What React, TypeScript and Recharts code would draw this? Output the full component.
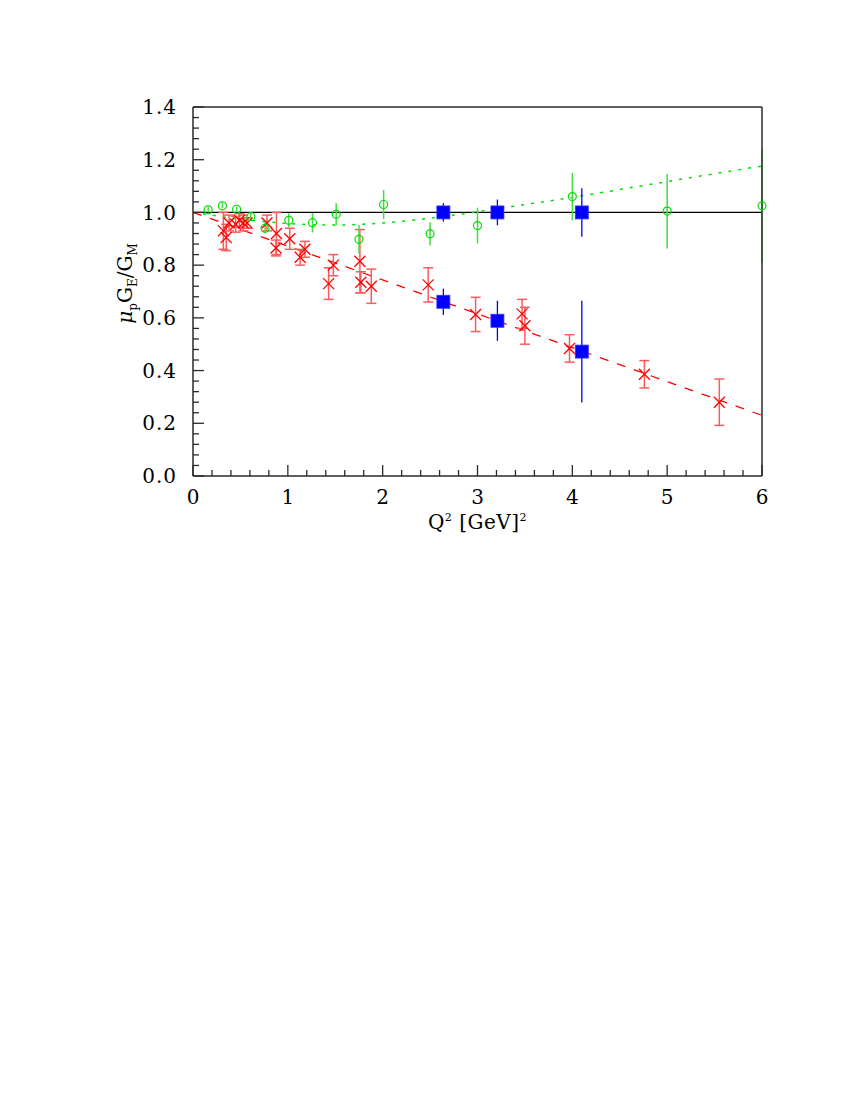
import React from 'react';
import { ComposedChart, XAxis, YAxis, Scatter, Line, ErrorBar, ReferenceLine, Label } from 'recharts';

// Red crosses (recoil polarization data)
const redQ = [0.32, 0.35, 0.38, 0.45, 0.49, 0.53, 0.57, 0.78, 0.88, 0.875, 1.02, 1.13, 1.18, 1.43, 1.48, 1.76, 1.77, 1.88, 2.48, 2.98, 3.47, 3.5, 3.97, 4.76, 5.55];
const redRatio = [0.93, 0.905, 0.96, 0.955, 0.97, 0.96, 0.96, 0.96, 0.92, 0.865, 0.9, 0.83, 0.86, 0.73, 0.8, 0.815, 0.735, 0.72, 0.725, 0.613, 0.615, 0.57, 0.484, 0.386, 0.28];
const redErr = [0.07, 0.05, 0.03, 0.03, 0.025, 0.03, 0.02, 0.03, 0.08, 0.03, 0.04, 0.03, 0.03, 0.06, 0.04, 0.12, 0.04, 0.065, 0.065, 0.065, 0.055, 0.07, 0.052, 0.052, 0.088];

// Green circles (Rosenbluth data)
const greenQ = [0.16, 0.31, 0.46, 0.61, 0.76, 1.01, 1.26, 1.51, 1.75, 2.01, 2.5, 3.0, 4.0, 5.0, 6.0];
const greenRatio = [1.01, 1.025, 1.012, 0.984, 0.94, 0.97, 0.961, 0.993, 0.898, 1.03, 0.919, 0.95, 1.06, 1.005, 1.025];
const greenErr = [0.01, 0.01, 0.01, 0.015, 0.02, 0.027, 0.037, 0.042, 0.054, 0.055, 0.044, 0.068, 0.09, 0.142, 0.216];

// Blue squares (projected)
const blueQ = [2.64, 3.21, 4.1, 2.64, 3.21, 4.1];
const blueRatio = [1.0, 1.0, 1.0, 0.661, 0.589, 0.472];
const blueErr = [0.035, 0.049, 0.092, 0.05, 0.076, 0.193];

// Fit curves
const redFitQ = [0, 1, 2, 3, 4, 5, 6];
const redFitRatio = [1.0, 0.872, 0.744, 0.615, 0.487, 0.358, 0.23];
const greenFitQ = [0, 0.5, 1, 1.5, 2, 2.5, 3, 3.5, 4, 4.5, 5, 5.5, 6];
const greenFitRatio = [1.0, 0.975, 0.958, 0.952, 0.96, 0.978, 1.003, 1.03, 1.057, 1.087, 1.117, 1.147, 1.176];

// Axis ticks
const xMajorLabels = [0, 1, 2, 3, 4, 5, 6];
const yMajorLabels = [0, 0.2, 0.4, 0.6, 0.8, 1.0, 1.2, 1.4];
const xTicks = Array.from({ length: 31 }, (_, i) => +(i * 0.2).toFixed(2));
const yTicks = Array.from({ length: 36 }, (_, i) => +(i * 0.04).toFixed(2));

const zip3 = (a: number[], b: number[], c?: number[]) => a.map((x, i) => ({ x, y: b[i], e: c ? c[i] : 0 }));
const redData = zip3(redQ, redRatio, redErr);
const greenData = zip3(greenQ, greenRatio, greenErr);
const blueData = zip3(blueQ, blueRatio, blueErr);
const redFit = zip3(redFitQ, redFitRatio);
const greenFit = zip3(greenFitQ, greenFitRatio);

const FONT = '"DejaVu Serif", serif';
const AX = '#2a2a2a';

const isXMajor = (v: number) => xMajorLabels.some((m) => Math.abs(m - v) < 1e-6);
const isYMajor = (v: number) => yMajorLabels.some((m) => Math.abs(m - v) < 1e-6);

const BottomTick = (p: any) => {
  const { x, y, payload } = p;
  const major = isXMajor(payload.value);
  return (
    <g>
      <line x1={x} x2={x} y1={y} y2={y - (major ? 11 : 6)} stroke={AX} strokeWidth={1.3} />
      {major && (
        <text x={x} y={y + 21} dy="0.36em" textAnchor="middle" fontFamily={FONT} fontSize={20} fill="#000">
          {Math.round(payload.value)}
        </text>
      )}
    </g>
  );
};
const TopTick = (p: any) => {
  const { x, y, payload } = p;
  const major = isXMajor(payload.value);
  return <line x1={x} x2={x} y1={y} y2={y + (major ? 11 : 6)} stroke={AX} strokeWidth={1.3} />;
};
const LeftTick = (p: any) => {
  const { x, y, payload } = p;
  const major = isYMajor(payload.value);
  return (
    <g>
      <line x1={x} x2={x + (major ? 11 : 6)} y1={y} y2={y} stroke={AX} strokeWidth={1.3} />
      {major && (
        <text x={x - 16} y={y} dy="0.36em" textAnchor="end" fontFamily={FONT} fontSize={20} letterSpacing={1} fill="#000">
          {payload.value.toFixed(1)}
        </text>
      )}
    </g>
  );
};
const RightTick = (p: any) => {
  const { x, y, payload } = p;
  const major = isYMajor(payload.value);
  return <line x1={x} x2={x - (major ? 11 : 6)} y1={y} y2={y} stroke={AX} strokeWidth={1.3} />;
};

const XMark = (p: any) => {
  const { cx, cy } = p;
  const s = 5.5;
  return (
    <g stroke="#ff0000" strokeWidth={1.3}>
      <line x1={cx - s} y1={cy - s} x2={cx + s} y2={cy + s} />
      <line x1={cx - s} y1={cy + s} x2={cx + s} y2={cy - s} />
    </g>
  );
};
const Circle = (p: any) => <circle cx={p.cx} cy={p.cy} r={4} fill="none" stroke="#00dd00" strokeWidth={1.2} />;
const Square = (p: any) => <rect x={p.cx - 6.5} y={p.cy - 6.5} width={13} height={13} fill="#0000ff" stroke="#3333ff" strokeWidth={0.8} />;

const XLabel = (props: any) => {
  const vb = props.viewBox;
  return (
    <text x={vb.x + vb.width / 2} y={vb.y + 53} textAnchor="middle" fontFamily={FONT} fontSize={20} letterSpacing={0.5} fill="#000">
      Q<tspan dy={-8} fontSize={11}>2</tspan>
      <tspan dy={8}> [GeV]</tspan>
      <tspan dy={-8} fontSize={11}>2</tspan>
    </text>
  );
};
const YLabel = (props: any) => {
  const vb = props.viewBox;
  const cx = vb.x - 1;
  const cy = vb.y + vb.height / 2 - 8;
  return (
    <text x={cx} y={cy} transform={`rotate(-90, ${cx}, ${cy})`} textAnchor="middle" fontFamily={FONT} fontSize={20} fill="#000">
      <tspan fontStyle="italic">μ</tspan>
      <tspan dy={5} fontSize={12}>p</tspan>
      <tspan dy={-5}>G</tspan>
      <tspan dy={5} fontSize={12}>E</tspan>
      <tspan dy={-5}>/G</tspan>
      <tspan dy={5} fontSize={12}>M</tspan>
    </text>
  );
};

export default function App() {
  return (
    <div style={{ width: 850, height: 560 }}>
      <ComposedChart width={850} height={560} margin={{ top: 69, right: 36, bottom: 62, left: 125 }}>
        <XAxis
          xAxisId="b"
          dataKey="x"
          type="number"
          domain={[0, 6]}
          ticks={xTicks}
          interval={0}
          height={30}
          tickSize={0}
          tickMargin={0}
          tick={<BottomTick />}
          axisLine={{ stroke: AX, strokeWidth: 1.5 }}
          tickLine={false}
          label={<Label content={<XLabel />} />}
        />
        <XAxis
          xAxisId="t"
          orientation="top"
          dataKey="x"
          type="number"
          domain={[0, 6]}
          ticks={xTicks}
          interval={0}
          height={30}
          tickSize={0}
          tickMargin={0}
          tick={<TopTick />}
          axisLine={{ stroke: AX, strokeWidth: 1.5 }}
          tickLine={false}
        />
        <YAxis
          yAxisId="l"
          dataKey="y"
          type="number"
          domain={[0, 1.4]}
          ticks={yTicks}
          interval={0}
          width={60}
          tickSize={0}
          tickMargin={0}
          tick={<LeftTick />}
          axisLine={{ stroke: AX, strokeWidth: 1.5 }}
          tickLine={false}
          label={<Label content={<YLabel />} />}
        />
        <YAxis
          yAxisId="r"
          orientation="right"
          dataKey="y"
          type="number"
          domain={[0, 1.4]}
          ticks={yTicks}
          interval={0}
          width={60}
          tickSize={0}
          tickMargin={0}
          tick={<RightTick />}
          axisLine={{ stroke: AX, strokeWidth: 1.5 }}
          tickLine={false}
        />
        <ReferenceLine xAxisId="b" yAxisId="l" y={1} stroke="#000" strokeWidth={1.2} />
        <Line xAxisId="b" yAxisId="l" data={greenFit} dataKey="y" type="monotone" stroke="#00dd00" strokeWidth={1.5} strokeDasharray="3 7" dot={false} isAnimationActive={false} />
        <Line xAxisId="b" yAxisId="l" data={redFit} dataKey="y" type="linear" stroke="#ff0000" strokeWidth={1.3} strokeDasharray="9 9" dot={false} isAnimationActive={false} />
        <Scatter xAxisId="b" yAxisId="l" data={redData} dataKey="y" shape={<XMark />} isAnimationActive={false}>
          <ErrorBar dataKey="e" direction="y" width={5} stroke="#ff5a5a" strokeWidth={1.5} />
        </Scatter>
        <Scatter xAxisId="b" yAxisId="l" data={greenData} dataKey="y" shape={<Circle />} isAnimationActive={false}>
          <ErrorBar dataKey="e" direction="y" width={0} stroke="#44dd44" strokeWidth={1.5} />
        </Scatter>
        <Scatter xAxisId="b" yAxisId="l" data={blueData} dataKey="y" shape={<Square />} isAnimationActive={false}>
          <ErrorBar dataKey="e" direction="y" width={0} stroke="#0000ff" strokeWidth={1.3} />
        </Scatter>
      </ComposedChart>
    </div>
  );
}
